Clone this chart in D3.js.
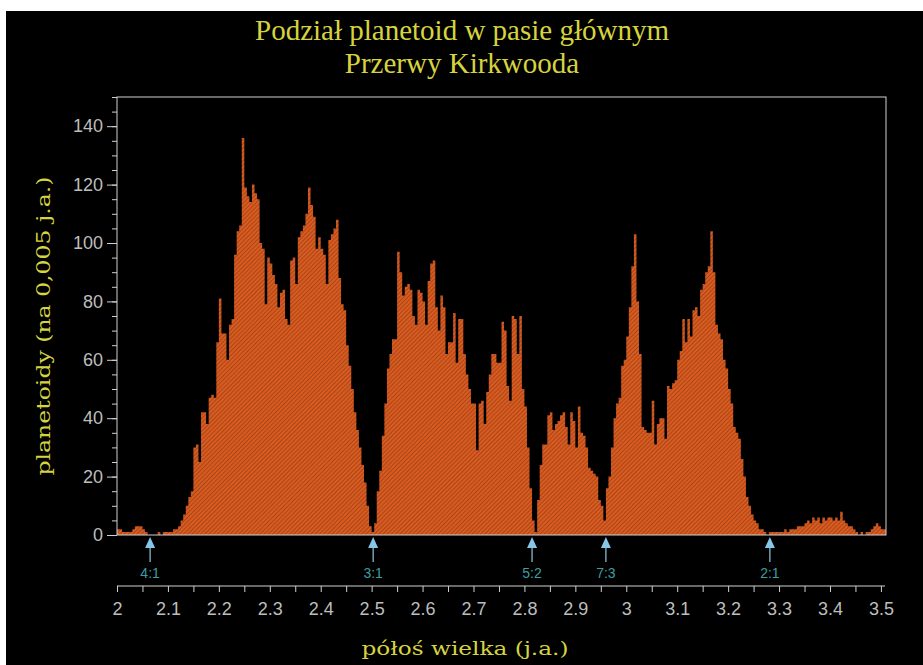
<!DOCTYPE html>
<html>
<head>
<meta charset="utf-8">
<script src="https://cdn.jsdelivr.net/npm/d3@7"></script>
<style>
  body { margin: 0; background: #fff; }
  svg { display: block; }
</style>
</head>
<body>
<svg id="chart" width="923" height="665"></svg>
<script>
// histogram: counts per 0.005 AU bin, starting at 2.000 AU
const binStart = 2.0;
const binWidth = 0.005;
const counts = [
  2, 2, 1, 1, 1, 1, 2, 3, 3, 3,
  2, 1, 0, 0, 0, 0, 1, 0, 1, 1,
  1, 1, 2, 2, 3, 5, 7, 10, 13, 15,
  30, 31, 25, 42, 42, 38, 47, 48, 47, 66,
  81, 69, 69, 60, 72, 74, 96, 104, 106, 136,
  119, 116, 114, 120, 117, 115, 100, 98, 79, 95,
  93, 89, 86, 78, 83, 84, 74, 72, 94, 95,
  86, 102, 104, 106, 110, 119, 113, 109, 98, 102,
  98, 96, 86, 101, 103, 105, 108, 88, 79, 77,
  65, 58, 50, 42, 36, 30, 24, 18, 10, 3,
  1, 4, 15, 22, 34, 45, 57, 62, 67, 67,
  97, 90, 82, 85, 86, 84, 75, 72, 84, 83,
  80, 72, 87, 93, 94, 78, 70, 82, 78, 62,
  66, 66, 76, 59, 74, 74, 62, 55, 50, 45,
  45, 29, 45, 46, 38, 49, 55, 62, 62, 59,
  59, 73, 70, 51, 46, 75, 74, 62, 75, 50,
  44, 30, 16, 5, 1, 12, 24, 31, 31, 41,
  42, 36, 38, 39, 41, 42, 37, 31, 42, 39,
  30, 44, 35, 34, 30, 23, 22, 21, 20, 12,
  10, 5, 16, 20, 30, 40, 45, 47, 58, 60,
  68, 78, 92, 103, 80, 62, 37, 36, 35, 35,
  46, 31, 38, 40, 40, 33, 51, 50, 52, 53,
  60, 63, 74, 66, 74, 68, 77, 78, 75, 84,
  86, 90, 92, 104, 90, 72, 69, 67, 60, 57,
  50, 45, 37, 35, 33, 26, 20, 13, 10, 7,
  5, 4, 2, 2, 1, 0, 1, 1, 1, 1,
  1, 1, 2, 1, 2, 2, 2, 3, 3, 3,
  4, 5, 4, 6, 5, 6, 4, 6, 5, 6,
  6, 5, 6, 5, 8, 5, 4, 3, 3, 2,
  1, 0, 1, 0, 1, 1, 2, 3, 4, 3, 2, 2
];

// Kirkwood gaps (mean-motion resonances with Jupiter)
const gapLabels = ["4:1", "3:1", "5:2", "7:3", "2:1"];
const gapPositions = [2.065, 2.503, 2.815, 2.960, 3.282];

const yMajorTicks = [0, 20, 40, 60, 80, 100, 120, 140];
const xLabelTicks = [2, 2.1, 2.2, 2.3, 2.4, 2.5, 2.6, 2.7, 2.8, 2.9, 3, 3.1, 3.2, 3.3, 3.4, 3.5];

const titleLines = ["Podział planetoid w pasie głównym", "Przerwy Kirkwooda"];
const yTitle = "planetoidy (na 0,005 j.a.)";
const xTitle = "półoś wielka (j.a.)";

// layout
const plotLeft = 117, plotRight = 886, plotTop = 97, plotBottom = 535;
const xAxisY = 586;
const yellow = "#d6d43e";
const axisGrey = "#d0d0d0";
const tickFont = "'Liberation Sans', Arial, sans-serif";

const svg = d3.select("#chart");

// black panel with a thin white margin top/left like the scan
svg.append("rect")
  .attr("x", 6).attr("y", 11)
  .attr("width", 923 - 6).attr("height", 665 - 11)
  .attr("fill", "#000");

const x = d3.scaleLinear().domain([2.0, 3.51]).range([plotLeft, plotRight]);
const y = d3.scaleLinear().domain([0, 150]).range([plotBottom, plotTop]);

const bins = counts.map((c, i) => ({ a: binStart + i * binWidth, c }));

// hatched orange fill
const defs = svg.append("defs");
const pat = defs.append("pattern")
  .attr("id", "hatch")
  .attr("patternUnits", "userSpaceOnUse")
  .attr("width", 3).attr("height", 3)
  .attr("patternTransform", "rotate(45)");
pat.append("rect").attr("width", 3).attr("height", 3).attr("fill", "#d85c1f");
pat.append("rect").attr("width", 1).attr("height", 3).attr("fill", "#ab451a");

// step area for the bars (avoids seams between 2.5px bins)
const last = bins[bins.length - 1];
const stepData = bins.concat([{ a: last.a + binWidth, c: last.c }]);
const area = d3.area()
  .x(d => x(d.a))
  .y0(y(0))
  .y1(d => y(d.c))
  .curve(d3.curveStepAfter);

svg.append("path")
  .datum(stepData)
  .attr("d", area)
  .attr("fill", "url(#hatch)");

// plot frame
svg.append("rect")
  .attr("x", plotLeft).attr("y", plotTop)
  .attr("width", plotRight - plotLeft).attr("height", plotBottom - plotTop)
  .attr("fill", "none")
  .attr("stroke", axisGrey)
  .attr("stroke-width", 1);

// y axis: major ticks with labels, minor every 5
const yMinor = d3.axisLeft(y).tickValues(d3.range(0, 151, 5)).tickSize(5).tickFormat("");
svg.append("g").attr("transform", `translate(${plotLeft},0)`).call(yMinor)
  .call(g => g.select(".domain").remove())
  .call(g => g.selectAll("line").attr("stroke", axisGrey));

const yMajor = d3.axisLeft(y).tickValues(yMajorTicks).tickSize(10).tickPadding(4);
svg.append("g").attr("transform", `translate(${plotLeft},0)`).call(yMajor)
  .call(g => g.select(".domain").remove())
  .call(g => g.selectAll("line").attr("stroke", axisGrey))
  .call(g => g.selectAll("text")
    .attr("fill", "#bdbdbd")
    .style("font-family", tickFont)
    .style("font-size", "18px"));

// separate x axis below the histogram
const xAxis = d3.axisBottom(x)
  .tickValues(d3.range(0, 31).map(k => 2 + k * 0.05))
  .tickSize(6)
  .tickPadding(10)
  .tickFormat(d => {
    const v = Math.round(d * 100) / 100;
    return xLabelTicks.some(t => Math.abs(t - v) < 1e-6) ? d3.format("~g")(v) : "";
  });

svg.append("g").attr("transform", `translate(0,${xAxisY})`).call(xAxis)
  .call(g => g.select(".domain")
    .attr("d", `M${x(2)},0H${plotRight - 1}`)
    .attr("stroke", axisGrey))
  .call(g => g.selectAll("line").attr("stroke", axisGrey))
  .call(g => g.selectAll("text")
    .attr("fill", "#bdbdbd")
    .style("font-family", tickFont)
    .style("font-size", "18px"));

// gap arrows
const arrows = svg.append("g");
gapPositions.forEach((a, i) => {
  const ax = x(a);
  arrows.append("line")
    .attr("x1", ax).attr("x2", ax)
    .attr("y1", 546).attr("y2", 562)
    .attr("stroke", "#8fc9dc")
    .attr("stroke-width", 1.2);
  arrows.append("path")
    .attr("d", `M${ax},537L${ax + 5},548L${ax - 5},548Z`)
    .attr("fill", "#86c6e8");
  arrows.append("text")
    .attr("x", ax).attr("y", 578)
    .attr("text-anchor", "middle")
    .attr("fill", "#3c9ea2")
    .style("font-family", tickFont)
    .style("font-size", "14px")
    .text(gapLabels[i]);
});

// titles
svg.selectAll(".title")
  .data(titleLines)
  .join("text")
  .attr("class", "title")
  .attr("x", 462)
  .attr("y", (d, i) => 40 + i * 33)
  .attr("text-anchor", "middle")
  .attr("fill", yellow)
  .style("font-family", "'Liberation Serif', serif")
  .style("font-size", "29px")
  .text(d => d);

// axis titles in a wide serif
svg.append("text")
  .attr("transform", `translate(50,326) rotate(-90) scale(1.24,1)`)
  .attr("text-anchor", "middle")
  .attr("fill", yellow)
  .style("font-family", "'DejaVu Serif', serif")
  .style("font-size", "19px")
  .text(yTitle);

svg.append("text")
  .attr("transform", `translate(465,655) scale(1.22,1)`)
  .attr("text-anchor", "middle")
  .attr("fill", yellow)
  .style("font-family", "'DejaVu Serif', serif")
  .style("font-size", "19px")
  .text(xTitle);
</script>
</body>
</html>
